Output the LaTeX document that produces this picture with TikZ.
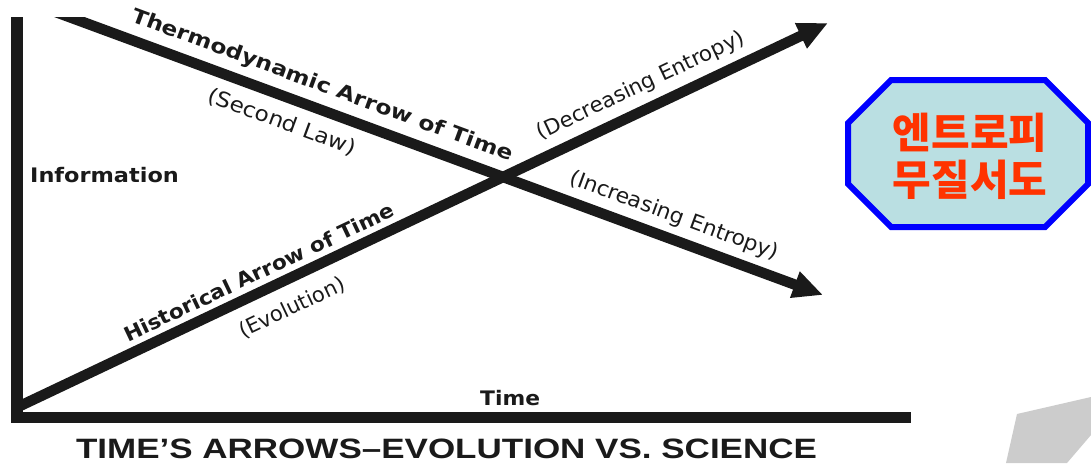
\documentclass[tikz,border=0pt]{standalone}
\usepackage{fontspec}
\setmainfont{DejaVu Sans}
\newfontfamily\krfont{Noto Sans CJK KR}
\newfontfamily\titlefont{Liberation Sans}
\usetikzlibrary{arrows.meta}
\definecolor{boxfill}{RGB}{186,223,226}
\definecolor{boxblue}{RGB}{0,0,255}
\definecolor{krred}{RGB}{255,51,0}
\definecolor{ink}{RGB}{26,26,26}
\definecolor{shadegray}{RGB}{204,204,204}
\tikzset{
  lbl/.style={inner sep=0pt, text=ink, font=\fontsize{21}{25}\selectfont},
  blbl/.style={inner sep=0pt, text=ink, font=\fontsize{20}{24}\selectfont\bfseries},
  bigarrow/.style={draw=ink, line width=10.5pt, -{Triangle[length=30pt,width=26pt]}},
  krtext/.style={inner sep=0pt, text=krred, font=\krfont\bfseries\fontsize{42}{48}\selectfont, anchor=base}
}
\begin{document}
\begin{tikzpicture}[x=1pt,y=-1pt]
\fill[white] (0,0) rectangle (1091,463);
\useasboundingbox (0,0) rectangle (1091,463);
% axes
\fill[ink] (11,17) rectangle (23,423);
\fill[ink] (11,412) rectangle (911,423);
% arrow coordinates
\coordinate (hs) at (14,408.8);
\coordinate (ht) at (828,23);
\coordinate (ts) at (50,9.9);
\coordinate (tt) at (823,295);
% historical arrow
\draw[bigarrow] (hs) -- (ht);
% thermodynamic arrow (cut flat at the top)
\begin{scope}
  \clip (0,17) rectangle (1091,463);
  \draw[bigarrow] (ts) -- (tt);
\end{scope}
% labels
\node[blbl, rotate=-20.25] (thermo) at (322,86) {\scalebox{1.17}[1]{Thermodynamic Arrow of Time}};
\node[lbl, rotate=-20.25] (second) at (282,122) {\scalebox{1.1}[1]{(Second Law)}};
\node[lbl, rotate=-20.25] (incr) at (674,216) {\scalebox{1.04}[1]{(Increasing Entropy)}};
\node[blbl, rotate=25.36] (hist) at (259,272) {\scalebox{1.085}[1]{Historical Arrow of Time}};
\node[lbl, rotate=25.36] (evol) at (292,308) {(Evolution)};
\node[lbl, rotate=25.36] (decr) at (641,86) {\scalebox{1.02}[1]{(Decreasing Entropy)}};
\node[blbl, anchor=base west] (info) at (30,182) {\scalebox{1.12}[1]{Information}};
\node[blbl, anchor=base west] (time) at (480,405) {\scalebox{1.09}[1]{Time}};
% title
\node[anchor=base, inner sep=0pt, text=ink, font=\titlefont\bfseries\fontsize{28}{32}\selectfont] (title) at (446.5,458) {\scalebox{1.25}[1]{TIME’S ARROWS–EVOLUTION VS. SCIENCE}};
% Korean box
\draw[draw=boxblue, line width=6pt, fill=boxfill, line join=miter]
  (891,80) -- (1045,80) -- (1088,123) -- (1088,184) -- (1045,227) -- (891,227) -- (848,184) -- (848,123) -- cycle;
\node[krtext] (kr1) at (970,148) {엔트로피};
\node[krtext] (kr2) at (970,195) {무질서도};
% grey shape
\fill[shadegray] (1017,414) -- (1091,397) -- (1091,435) -- (1067,463) -- (1006,463) -- cycle;
\end{tikzpicture}
\end{document}
